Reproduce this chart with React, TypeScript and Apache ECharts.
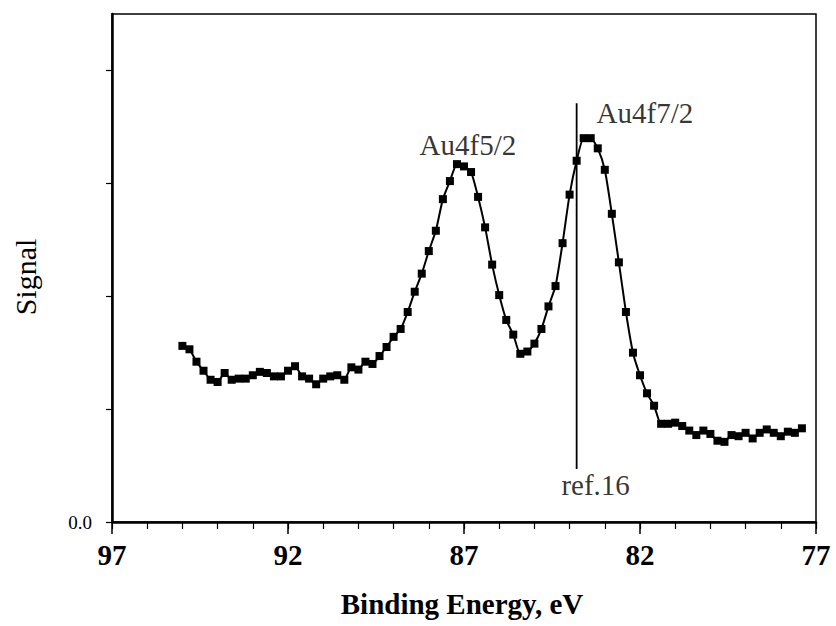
import React, { useEffect, useRef } from "react";
import * as echarts from "echarts";

// Binding energy (eV) of each measured point
const energies = [
  95.0, 94.8, 94.6, 94.4, 94.2, 94.0, 93.8, 93.6, 93.4, 93.2,
  93.0, 92.8, 92.6, 92.4, 92.2, 92.0, 91.8, 91.6, 91.4, 91.2,
  91.0, 90.8, 90.6, 90.4, 90.2, 90.0, 89.8, 89.6, 89.4, 89.2,
  89.0, 88.8, 88.6, 88.4, 88.2, 88.0, 87.8, 87.6, 87.4, 87.2,
  87.0, 86.8, 86.6, 86.4, 86.2, 86.0, 85.8, 85.6, 85.4, 85.2,
  85.0, 84.8, 84.6, 84.4, 84.2, 84.0, 83.8, 83.6, 83.4, 83.2,
  83.0, 82.8, 82.6, 82.4, 82.2, 82.0, 81.8, 81.6, 81.4, 81.2,
  81.0, 80.8, 80.6, 80.4, 80.2, 80.0, 79.8, 79.6, 79.4, 79.2,
  79.0, 78.8, 78.6, 78.4, 78.2, 78.0, 77.8, 77.6, 77.4,
];

// Signal (arbitrary units) at each energy
const signal = [
  1.56, 1.53, 1.42, 1.34, 1.26, 1.24, 1.32, 1.26, 1.27, 1.27,
  1.30, 1.33, 1.32, 1.29, 1.29, 1.34, 1.38, 1.29, 1.27, 1.22,
  1.27, 1.29, 1.30, 1.26, 1.37, 1.35, 1.42, 1.40, 1.47, 1.55,
  1.64, 1.71, 1.86, 2.04, 2.20, 2.40, 2.58, 2.86, 3.02, 3.17,
  3.15, 3.10, 2.88, 2.61, 2.28, 2.01, 1.79, 1.66, 1.49, 1.51,
  1.58, 1.71, 1.91, 2.09, 2.47, 2.90, 3.20, 3.40, 3.40, 3.31,
  3.12, 2.73, 2.30, 1.86, 1.50, 1.30, 1.14, 1.03, 0.87, 0.87,
  0.88, 0.85, 0.81, 0.77, 0.81, 0.78, 0.72, 0.71, 0.77, 0.76,
  0.79, 0.74, 0.79, 0.82, 0.79, 0.76, 0.80, 0.79, 0.83,
];

// Axis ticks
const xMajorTicks = [97, 92, 87, 82, 77];
const yTicks = [0, 1, 2, 3, 4];
const yLabelValues = [0];

// Reference line (ref.16)
const refEnergy = 83.8;
const refSpan = [0.47, 3.71];

// Peak annotations
const annotationTexts = ["Au4f5/2", "Au4f7/2", "ref.16"];
const annotationEnergies = [86.89, 81.86, 83.26];
const annotationSignals = [3.34, 3.62, 0.33];

const FONT = "'Liberation Serif', 'Times New Roman', serif";

export default function App() {
  const ref = useRef<HTMLDivElement>(null);

  useEffect(() => {
    document.body.style.margin = "0";
    const chart = echarts.init(ref.current!, undefined, { renderer: "svg" });
    const option = {
      animation: false,
      backgroundColor: "#ffffff",
      grid: {
        left: 112,
        right: 20,
        top: 14,
        bottom: 104,
        show: true,
        borderColor: "#000",
        borderWidth: 1.5,
        backgroundColor: "transparent",
      },
      xAxis: [
        {
          type: "value",
          inverse: true,
          min: 77,
          max: 97,
          axisLine: { show: true, lineStyle: { color: "#000", width: 2.5 } },
          axisTick: {
            show: true,
            length: 12,
            inside: false,
            customValues: xMajorTicks,
            lineStyle: { color: "#000", width: 1.5 },
          },
          axisLabel: {
            show: true,
            customValues: xMajorTicks,
            margin: 18,
            color: "#000",
            fontFamily: FONT,
            fontSize: 29,
            fontWeight: "bold",
          },
          splitLine: { show: false },
        },
        {
          type: "value",
          inverse: true,
          min: 77,
          max: 97,
          interval: 1,
          position: "bottom",
          axisLine: { show: false },
          axisTick: {
            show: true,
            length: 7,
            inside: false,
            lineStyle: { color: "#000", width: 1.2 },
          },
          axisLabel: { show: false },
          splitLine: { show: false },
        },
      ],
      yAxis: {
        type: "value",
        min: 0,
        max: 4.5,
        axisLine: { show: true, lineStyle: { color: "#000", width: 2.5 } },
        axisTick: {
          show: true,
          length: 6,
          inside: false,
          customValues: yTicks,
          lineStyle: { color: "#000", width: 1.2 },
        },
        axisLabel: {
          show: true,
          customValues: yLabelValues,
          formatter: (v: number) => v.toFixed(1),
          margin: 20,
          color: "#000",
          fontFamily: FONT,
          fontSize: 19,
        },
        splitLine: { show: false },
      },
      graphic: [
        {
          type: "text",
          x: 462,
          y: 604,
          style: {
            text: "Binding Energy, eV",
            fill: "#000",
            font: `bold 29px ${FONT}`,
            align: "center",
            verticalAlign: "middle",
          },
        },
        {
          type: "text",
          x: 25,
          y: 277,
          rotation: Math.PI / 2,
          style: {
            text: "Signal",
            fill: "#000",
            font: `30px ${FONT}`,
            align: "center",
            verticalAlign: "middle",
          },
        },
      ],
      series: [
        {
          type: "line",
          name: "Signal",
          data: energies.map((e, i) => [e, signal[i]]),
          smooth: 0.2,
          symbol: "rect",
          symbolSize: 8,
          itemStyle: { color: "#000" },
          lineStyle: { color: "#000", width: 2 },
        },
        {
          type: "line",
          name: "ref",
          data: refSpan.map((s) => [refEnergy, s]),
          symbol: "none",
          lineStyle: { color: "#000", width: 1.8 },
        },
        {
          type: "scatter",
          name: "labels",
          symbolSize: 0,
          data: annotationTexts.map((t, i) => ({
            value: [annotationEnergies[i], annotationSignals[i]],
            name: t,
          })),
          label: {
            show: true,
            position: "inside",
            formatter: (p: any) => p.name,
            color: "#000",
            fontFamily: FONT,
            fontSize: 29,
          },
        },
      ],
    };
    chart.setOption(option as any);
    return () => chart.dispose();
  }, []);

  return (
    <div
      ref={ref}
      style={{ position: "absolute", left: 0, top: 0, width: 836, height: 626 }}
    />
  );
}
